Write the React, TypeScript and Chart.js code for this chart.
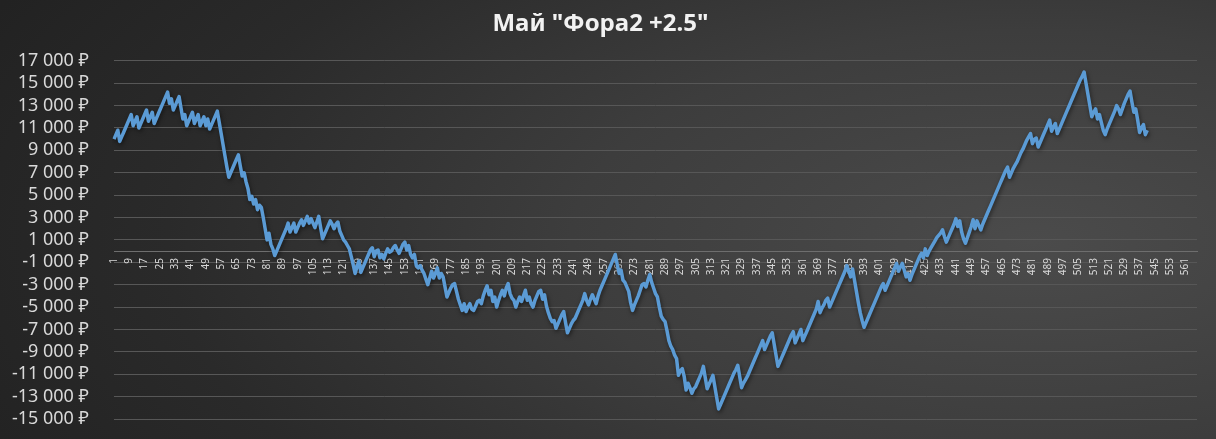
import React, { useRef, useEffect } from 'react';
import { Chart, registerables } from 'chart.js';

Chart.register(...registerables);

const chartTitle = 'Май "Фора2 +2.5"';

// rows in the sheet (last ones are empty)
const TOTAL_ROWS = 567;
const betNumbers = Array.from({ length: TOTAL_ROWS }, (_, i) => String(i + 1));

// bank after each bet, ₽
const bankroll = [
  10000, 10400, 10800, 9800, 10200, 10600, 11000, 11400, 11800, 12200,
  11200, 11600, 12000, 11000, 11400, 11800, 12200, 12600, 11600, 12000,
  12400, 11400, 11800, 12200, 12600, 13000, 13400, 13800, 14200, 13200,
  13600, 12600, 13000, 13400, 13800, 12800, 11800, 12200, 11200, 11600,
  12000, 12400, 11400, 11800, 12200, 11200, 11600, 12000, 11200, 11800,
  10900, 11300, 11700, 12100, 12500, 11500, 10500, 9500, 8500, 7500,
  6600, 7000, 7400, 7800, 8200, 8600, 7600, 6700, 7000, 6200,
  5600, 4600, 4900, 4200, 4600, 3700, 4100, 3900, 3000, 2000,
  1000, 1600, 600, 200, -400, 0, 400, 800, 1200, 1600,
  2000, 2500, 1700, 2100, 2500, 1700, 2100, 2500, 2800, 2300,
  2700, 3100, 2500, 2900, 2500, 2100, 2600, 3100, 2100, 1100,
  1500, 1900, 2300, 2700, 2400, 2000, 2400, 2600, 1800, 1400,
  1000, 800, 500, 200, -500, -1200, -2000, -1400, -900, -1900,
  -1500, -1100, -700, -300, 100, 300, -500, 0, 100, -600,
  -300, -700, -200, 200, -100, 0, 300, 500, 100, -200,
  200, 600, 800, 100, 500, -300, -600, -300, -1300, -1500,
  -1300, -1700, -2000, -2500, -3000, -2400, -1800, -2400, -2000, -1500,
  -2400, -2000, -2300, -3200, -4100, -3700, -3300, -3000, -2900, -3600,
  -4300, -4800, -5300, -4700, -5400, -5000, -4700, -5200, -5300, -4900,
  -4500, -4400, -4700, -4000, -3500, -3100, -3900, -3500, -4500, -4100,
  -5000, -4400, -3900, -3500, -4000, -3300, -2900, -3800, -4200, -4400,
  -5000, -4500, -4100, -4500, -4000, -3500, -4400, -4100, -4700, -5000,
  -4400, -4000, -3600, -3500, -4300, -3900, -4900, -5500, -6000, -6300,
  -6200, -6900, -6500, -6100, -5700, -5400, -6400, -7300, -6900, -6500,
  -6200, -6000, -5600, -5200, -4800, -4400, -3800, -4400, -4800, -4300,
  -3900, -4300, -4700, -4000, -3500, -3100, -2700, -2300, -1900, -1500,
  -1100, -700, -300, -1200, -2000, -1700, -2600, -2800, -3200, -3600,
  -4600, -5300, -4800, -4400, -4000, -3500, -3000, -2900, -3200, -2600,
  -2100, -2800, -3300, -3800, -4100, -5000, -5800, -6100, -6300, -7100,
  -8000, -8500, -8800, -9300, -9600, -11100, -10700, -10500, -11200, -12400,
  -11800, -12200, -12700, -12300, -12100, -11700, -11300, -10900, -10300, -11300,
  -12300, -11900, -11500, -11100, -12100, -13100, -14100, -13700, -13300, -12900,
  -12500, -12100, -11700, -11300, -10900, -10600, -10200, -11200, -12200, -11800,
  -11500, -11200, -10800, -10400, -10000, -9600, -9200, -8800, -8400, -8000,
  -8800, -8400, -8000, -7600, -7300, -8300, -9300, -10300, -9900, -9500,
  -9100, -8700, -8300, -7900, -7500, -7200, -8200, -7800, -7400, -7000,
  -8000, -7600, -7200, -6800, -6400, -6000, -5600, -5200, -4500, -5500,
  -5100, -4800, -4400, -4200, -5000, -4600, -4200, -3800, -3400, -3000,
  -2600, -2200, -1800, -1300, -1800, -2300, -1600, -2600, -3600, -4600,
  -5500, -6200, -6800, -6400, -6000, -5600, -5200, -4800, -4400, -4000,
  -3600, -3200, -2900, -3500, -3100, -2700, -2300, -1900, -1500, -1100,
  -1800, -1400, -1100, -1700, -2300, -2000, -2600, -2100, -1700, -1300,
  -900, -500, -200, -600, 200, -400, 0, 300, 600, 900,
  1200, 1400, 1600, 1900, 1300, 800, 1200, 1600, 2000, 2400,
  2900, 2200, 2700, 1700, 1100, 700, 1200, 1700, 2200, 2800,
  2000, 2700, 2300, 1900, 2400, 2800, 3200, 3600, 4000, 4400,
  4800, 5200, 5600, 6000, 6400, 6800, 7200, 7500, 6600, 7000,
  7400, 7700, 8000, 8400, 8800, 9100, 9500, 9900, 10200, 10500,
  9600, 10000, 10100, 9300, 9700, 10100, 10500, 10900, 11300, 11700,
  10700, 11100, 11400, 10500, 10900, 11300, 11700, 12100, 12500, 12900,
  13300, 13700, 14100, 14500, 14900, 15300, 15600, 16000, 15000, 14000,
  13000, 12000, 12400, 12700, 11800, 12200, 11500, 10800, 10400, 10900,
  11300, 11700, 12100, 12500, 13000, 12700, 12200, 12700, 13200, 13600,
  14000, 14300, 13300, 12400, 12700, 11700, 10600, 11000, 11300, 10400,
  10800,
];

const yMin = -15000;
const yMax = 17000;
const yStep = 2000;
const xLabelEvery = 8;

const formatRub = (v: number) => {
  const abs = String(Math.abs(v)).replace(/\B(?=(\d{3})+(?!\d))/g, ' ');
  return (v < 0 ? '-' : '') + abs + ' ₽';
};

// soft shadow under the line, like the Excel style
const lineShadow = {
  id: 'lineShadow',
  beforeDatasetsDraw(chart: Chart) {
    const ctx = chart.ctx;
    ctx.save();
    ctx.shadowColor = 'rgba(0, 0, 0, 0.5)';
    ctx.shadowBlur = 4;
    ctx.shadowOffsetX = 1;
    ctx.shadowOffsetY = 2;
  },
  afterDatasetsDraw(chart: Chart) {
    chart.ctx.restore();
  },
};

const BankChart: React.FC = () => {
  const chartRef = useRef<HTMLCanvasElement>(null);
  const chartInstance = useRef<Chart | null>(null);

  useEffect(() => {
    if (!chartRef.current) return;
    const ctx = chartRef.current.getContext('2d');
    if (!ctx) return;

    if (chartInstance.current) {
      chartInstance.current.destroy();
    }

    chartInstance.current = new Chart(ctx, {
      type: 'line',
      data: {
        labels: betNumbers,
        datasets: [
          {
            label: 'Банк',
            data: bankroll,
            borderColor: '#5b9bd5',
            borderWidth: 3.5,
            pointRadius: 0,
            tension: 0,
            fill: false,
            borderJoinStyle: 'round',
          },
        ],
      },
      plugins: [lineShadow],
      options: {
        animation: false,
        responsive: true,
        maintainAspectRatio: false,
        layout: {
          padding: { left: 0, right: 15, top: 0, bottom: 20 },
        },
        plugins: {
          legend: { display: false },
          tooltip: { enabled: false },
          title: {
            display: true,
            text: chartTitle,
            color: '#f2f2f2',
            font: { family: '"Noto Sans", sans-serif', size: 24, weight: 'bold' },
            padding: { top: 10, bottom: 22 },
          },
        },
        scales: {
          x: {
            type: 'category',
            position: { y: 0 },
            offset: false,
            grid: { display: false, drawTicks: false },
            border: { display: true, color: '#6e6e6e', width: 1 },
            ticks: {
              autoSkip: false,
              minRotation: 90,
              maxRotation: 90,
              padding: 7,
              color: '#d9d9d9',
              font: { family: '"Noto Sans", sans-serif', size: 10 },
              callback: (_value, index) => (index % xLabelEvery === 0 ? betNumbers[index] : ''),
            },
          },
          y: {
            min: yMin,
            max: yMax,
            afterFit: (scale) => {
              scale.width = 114;
              // the label gap must not eat into the plot height
              scale.paddingTop = 0;
              scale.paddingBottom = 0;
            },
            grid: { color: '#575757', lineWidth: 1, drawTicks: false },
            border: { display: false },
            ticks: {
              stepSize: yStep,
              autoSkip: false,
              padding: 25,
              color: '#d9d9d9',
              font: { family: '"Noto Sans", sans-serif', size: 18 },
              callback: (value) => formatRub(Number(value)),
            },
          },
        },
      },
    });

    return () => {
      if (chartInstance.current) {
        chartInstance.current.destroy();
        chartInstance.current = null;
      }
    };
  }, []);

  return (
    <div
      style={{
        position: 'fixed',
        left: 0,
        top: 0,
        width: 1216,
        height: 439,
        background:
          'radial-gradient(ellipse 95% 120% at 85% 55%, #4b4b4b 0%, #3d3d3d 40%, #2a2a2a 75%, #222222 100%)',
      }}
    >
      <canvas ref={chartRef} />
    </div>
  );
};

export default function App() {
  return <BankChart />;
}
